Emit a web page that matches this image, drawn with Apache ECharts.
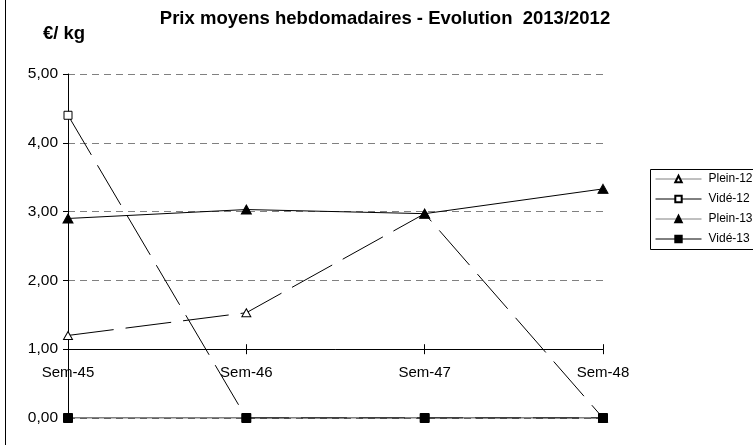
<!DOCTYPE html>
<html>
<head>
<meta charset="utf-8">
<script src="https://cdn.jsdelivr.net/npm/echarts@6/dist/echarts.min.js"></script>
<style>
html,body{margin:0;padding:0;background:#fff;}
#chart{width:753px;height:445px;}
</style>
</head>
<body>
<div id="chart"></div>
<script>
var categories = ['Sem-45', 'Sem-46', 'Sem-47', 'Sem-48'];
var plein12 = [1.20, 1.53, 2.97, 0.00];
var vide12  = [4.40, 0.00, 0.00, 0.00];
var plein13 = [2.90, 3.03, 2.97, 3.33];
var vide13  = [0.00, 0.00, 0.00, 0.00];
var yTicks  = [0, 1, 2, 3, 4, 5];

var FONT = '"Liberation Sans", Arial, sans-serif';
var chart = echarts.init(document.getElementById('chart'), null, {renderer: 'canvas'});

var G = {left: 68, right: 150};
var Y0 = 418, Y5 = 74;
var unit = (Y0 - Y5) / 5;
var y1px = Y0 - unit, y2px = Y0 - 2 * unit;

function fmt(v) { return v.toFixed(2).replace('.', ','); }

var option = {
  animation: false,
  backgroundColor: '#ffffff',
  grid: [
    {left: G.left, right: G.right, top: Y5, bottom: 445 - Y0},
    {left: G.left, right: G.right, top: y2px, bottom: 445 - y1px},
    {left: G.left, right: G.right, top: y2px, bottom: 445 - y1px}
  ],
  xAxis: [
    {gridIndex: 0, type: 'category', data: categories, boundaryGap: false,
     axisLine: {show: false}, axisTick: {show: false}, axisLabel: {show: false}, splitLine: {show: false}},
    {gridIndex: 1, type: 'category', data: categories, boundaryGap: false, position: 'bottom',
     axisLine: {show: true, lineStyle: {color: '#000', width: 1}},
     axisTick: {show: true, length: 5, lineStyle: {color: '#000'}, alignWithLabel: true},
     axisLabel: {show: true, margin: 16, color: '#000', fontSize: 15, fontFamily: FONT, interval: 0},
     splitLine: {show: false}},
    {gridIndex: 2, type: 'category', data: categories, boundaryGap: false, position: 'bottom',
     axisLine: {show: false},
     axisTick: {show: true, inside: true, length: 5, lineStyle: {color: '#000'}},
     axisLabel: {show: false}, splitLine: {show: false}}
  ],
  yAxis: [
    {gridIndex: 0, type: 'value', min: yTicks[0], max: yTicks[yTicks.length - 1], interval: 1,
     axisLine: {show: true, lineStyle: {color: '#000', width: 1}},
     axisTick: {show: true, length: 5, lineStyle: {color: '#000'}},
     axisLabel: {formatter: fmt, color: '#000', fontSize: 15.5, fontFamily: FONT, margin: 10},
     splitLine: {show: true, lineStyle: {color: '#808080', type: [7, 5], width: 1}}},
    {gridIndex: 1, type: 'value', min: 0, max: 1, show: false},
    {gridIndex: 2, type: 'value', min: 0, max: 1, show: false}
  ],
  legend: {
    orient: 'vertical', left: 655, top: 172, padding: 0,
    itemWidth: 46, itemHeight: 8, itemGap: 6,
    textStyle: {color: '#000', fontSize: 12, lineHeight: 14, fontFamily: FONT, padding: [0, 0, 0, 2]},
    lineStyle: {type: 'solid', width: 1},
    data: [
      {name: 'Plein-12', lineStyle: {color: '#808080'}},
      {name: 'Vidé-12', lineStyle: {color: '#000'}},
      {name: 'Plein-13', lineStyle: {color: '#808080'}},
      {name: 'Vidé-13', lineStyle: {color: '#000'}}
    ]
  },
  graphic: [
    {type: 'text', x: 385, y: 19, style: {text: 'Prix moyens hebdomadaires - Evolution  2013/2012', font: 'bold 18.5px ' + FONT, fill: '#000', align: 'center', verticalAlign: 'middle'}},
    {type: 'text', x: 43, y: 34, style: {text: '€/ kg', font: 'bold 18.5px ' + FONT, fill: '#000', align: 'left', verticalAlign: 'middle'}},
    {type: 'line', shape: {x1: 5.5, y1: 0, x2: 5.5, y2: 445}, style: {stroke: '#000', lineWidth: 1}},
    {type: 'rect', shape: {x: 650.5, y: 169.5, width: 120, height: 80}, style: {fill: 'none', stroke: '#000', lineWidth: 1}, z: -1}
  ],
  series: [
    {name: 'Plein-12', type: 'line', xAxisIndex: 0, yAxisIndex: 0, data: plein12,
     symbol: 'triangle', symbolSize: [9, 8],
     itemStyle: {color: '#fff', borderColor: '#000', borderWidth: 1},
     lineStyle: {color: '#000', width: 1, type: [46, 12]}},
    {name: 'Vidé-12', type: 'line', xAxisIndex: 0, yAxisIndex: 0, data: vide12,
     symbol: 'rect', symbolSize: 8,
     itemStyle: {color: '#fff', borderColor: '#000', borderWidth: 1},
     lineStyle: {color: '#000', width: 1, type: [46, 12]}},
    {name: 'Plein-13', type: 'line', xAxisIndex: 0, yAxisIndex: 0, data: plein13,
     symbol: 'triangle', symbolSize: [10, 9],
     itemStyle: {color: '#000', borderColor: '#000', borderWidth: 1},
     lineStyle: {color: '#000', width: 1, type: 'solid'}},
    {name: 'Vidé-13', type: 'line', xAxisIndex: 0, yAxisIndex: 0, data: vide13,
     symbol: 'rect', symbolSize: 9,
     itemStyle: {color: '#000', borderColor: '#000', borderWidth: 1},
     lineStyle: {color: '#000', width: 1, type: 'solid'}}
  ]
};
chart.setOption(option);
</script>
</body>
</html>
